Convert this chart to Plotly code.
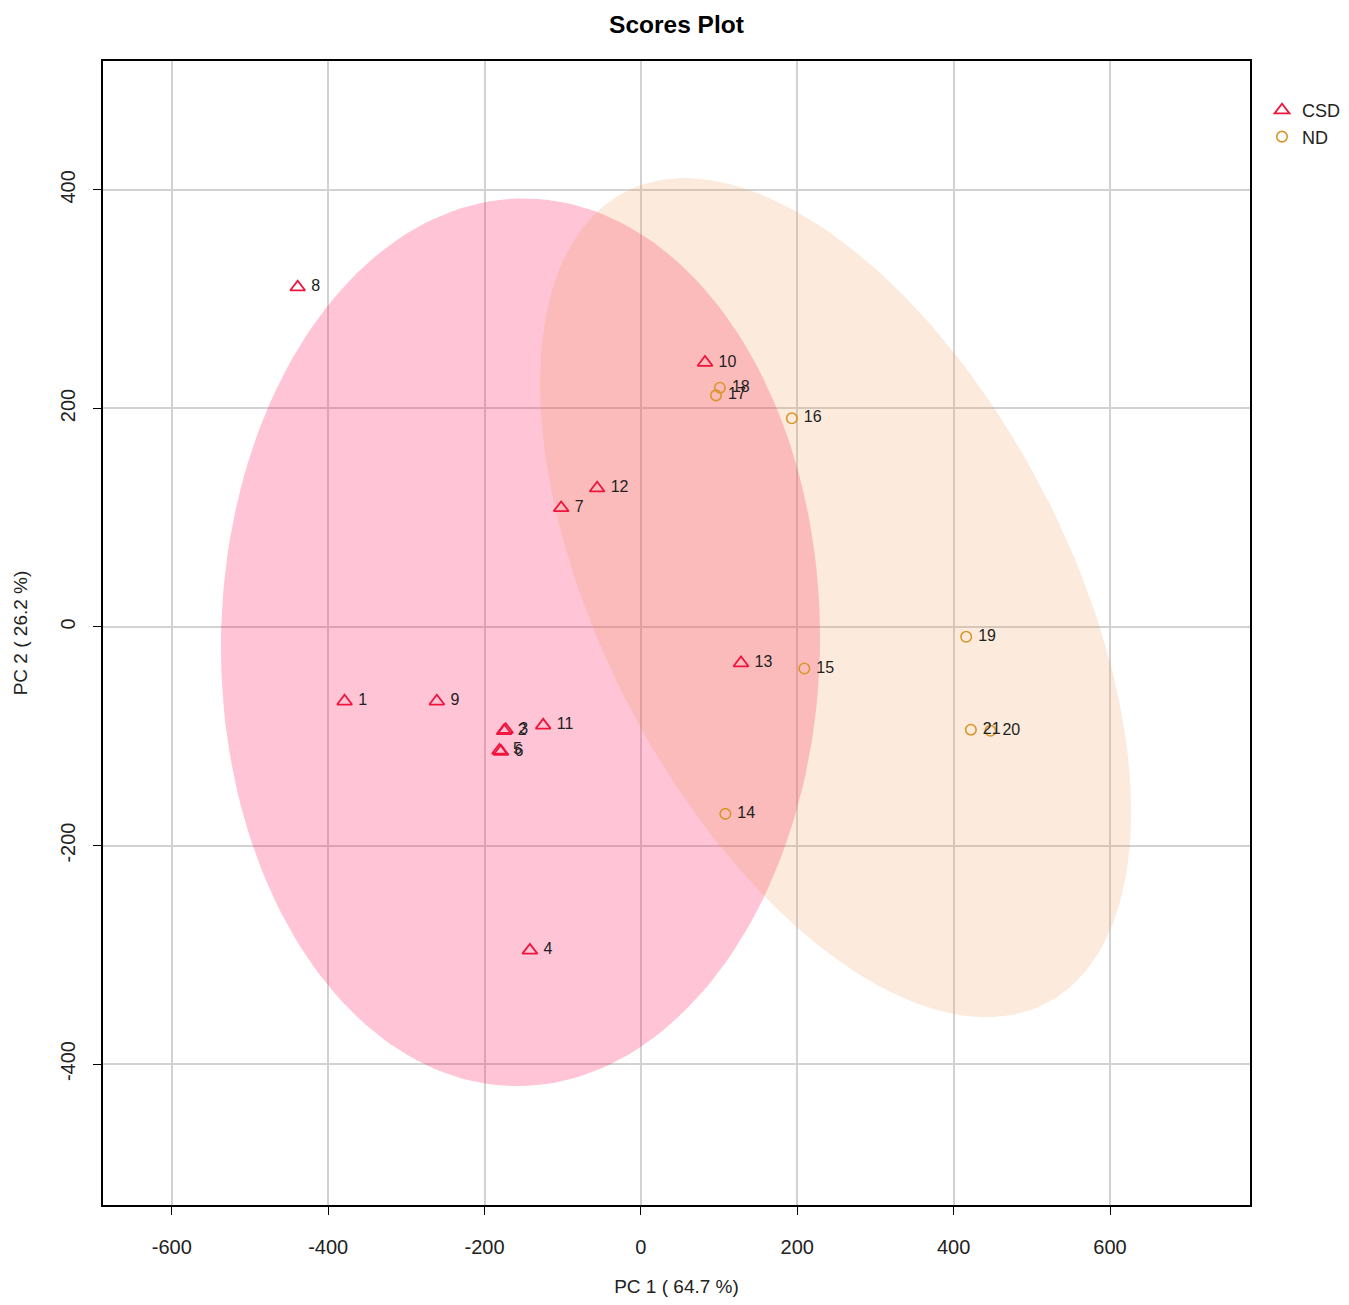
import numpy as np
import plotly.graph_objects as go

# ---- data ----
csd_labels = ["1", "2", "3", "4", "5", "6", "7", "8", "9", "10", "11", "12", "13"]
csd_pc1 = [-379, -175, -173, -142, -181, -179, -102, -439, -261, 82, -125, -56, 128]
csd_pc2 = [-68, -95, -94, -296, -113, -114, 109, 311, -68, 242, -90, 127, -33]

nd_labels = ["14", "15", "16", "17", "18", "19", "20", "21"]
nd_pc1 = [108, 209, 193, 96, 101, 416, 447, 422]
nd_pc2 = [-171, -38, 191, 212, 219, -9, -95, -94]

x_ticks = [-600, -400, -200, 0, 200, 400, 600]
y_ticks = [-400, -200, 0, 200, 400]

CSD_COLOR = "#F0143C"
ND_COLOR = "#D9962A"
FONT = "Liberation Sans, Arial"

# the page body has an 8px margin, so the figure is sized to fit inside the window
W, H = 1333, 1289


def conf_ellipse(x, y, level=0.95, n=200):
    x = np.asarray(x, float)
    y = np.asarray(y, float)
    cov = np.cov(np.vstack([x, y]))
    r = np.sqrt(-2.0 * np.log(1 - level))  # sqrt(qchisq(level, 2))
    L = np.linalg.cholesky(cov)
    t = np.linspace(0, 2 * np.pi, n)
    circ = np.vstack([np.cos(t), np.sin(t)]) * r
    pts = L @ circ
    return x.mean() + pts[0], y.mean() + pts[1]


fig = go.Figure()

ex, ey = conf_ellipse(csd_pc1, csd_pc2)
fig.add_trace(go.Scatter(x=ex, y=ey, mode="lines", fill="toself",
                         fillcolor="rgba(255,20,90,0.25)", line=dict(width=0),
                         hoverinfo="skip", showlegend=False))
ex, ey = conf_ellipse(nd_pc1, nd_pc2)
fig.add_trace(go.Scatter(x=ex, y=ey, mode="lines", fill="toself",
                         fillcolor="rgba(240,155,80,0.2)", line=dict(width=0),
                         hoverinfo="skip", showlegend=False))

fig.add_trace(go.Scatter(
    x=csd_pc1, y=csd_pc2, mode="markers+text", name="CSD",
    text=[" " + s for s in csd_labels], textposition="middle right",
    textfont=dict(size=16, color="#222222", family=FONT),
    marker=dict(symbol="triangle-up-open", size=13, color=CSD_COLOR, line=dict(width=1.8, color=CSD_COLOR)),
))
fig.add_trace(go.Scatter(
    x=nd_pc1, y=nd_pc2, mode="markers+text", name="ND",
    text=[" " + s for s in nd_labels], textposition="middle right",
    textfont=dict(size=16, color="#222222", family=FONT),
    marker=dict(symbol="circle-open", size=10.5, color=ND_COLOR, line=dict(width=1.6, color=ND_COLOR)),
))

axis_common = dict(
    showline=True, linecolor="black", linewidth=1.5, mirror=True,
    ticks="outside", ticklen=8, tickcolor="black", tickwidth=1.3,
    showgrid=True, gridcolor="#D2D2D2", gridwidth=1.5,
    zeroline=False, automargin=False,
    tickfont=dict(size=20, color="#222222", family=FONT),
)

fig.update_layout(
    width=W, height=H,
    margin=dict(l=95, r=91, t=53, b=92),
    plot_bgcolor="white", paper_bgcolor="white",
    title=dict(text="<b>Scores Plot</b>", x=0.5, xref="paper", y=1 - 16 / H, yanchor="middle",
               font=dict(size=24.5, color="black", family=FONT)),
    xaxis=dict(range=[-688, 779], tickvals=x_ticks, ticktext=[str(v) for v in x_ticks],
               ticklabelstandoff=15,
               title=dict(text="PC 1 ( 64.7 %)", standoff=42,
                          font=dict(size=19, color="#222222", family=FONT)),
               **axis_common),
    yaxis=dict(range=[-529, 518], tickvals=y_ticks, ticktext=[str(v) for v in y_ticks],
               tickangle=-90, ticklabelstandoff=10,
               title=dict(text="PC 2 ( 26.2 %)", standoff=25,
                          font=dict(size=19, color="#222222", family=FONT)),
               **axis_common),
    legend=dict(xref="container", yref="container", x=1254 / W, y=1 - 84 / H,
                xanchor="left", yanchor="top",
                font=dict(size=18, color="#222222", family=FONT),
                bgcolor="rgba(0,0,0,0)", itemwidth=30, tracegroupgap=0),
    showlegend=True,
)

fig.write_html("out.html")
